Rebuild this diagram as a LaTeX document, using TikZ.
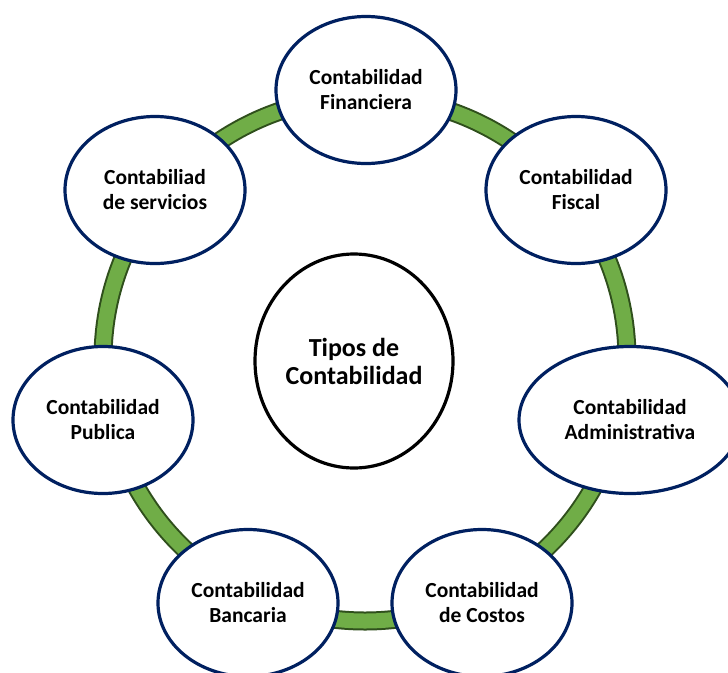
\documentclass[tikz,border=0pt]{standalone}
\usepackage{fontspec}
\setmainfont{Carlito}
\usetikzlibrary{shapes.geometric}
\definecolor{navy}{HTML}{002060}
\definecolor{ringgreen}{HTML}{70AD47}
\definecolor{ringdark}{HTML}{2F4F1C}
\begin{document}
\begin{tikzpicture}[x=1pt,y=-1pt,
  item/.style={ellipse, draw=navy, line width=3.2pt, fill=white,
    minimum width=180pt, minimum height=147pt, inner sep=0pt, align=center,
    font=\fontsize{21.5}{25}\selectfont\bfseries},
  hub/.style={ellipse, draw=black, line width=3.2pt, fill=white,
    minimum width=198pt, minimum height=214pt, inner sep=0pt, align=center,
    font=\fontsize{26}{28}\selectfont\bfseries}]
\useasboundingbox (0,0) rectangle (728,672);
\clip (0,0) rectangle (728,672);
\fill[white] (0,0) rectangle (728,672);
% ring
\draw[ringdark, line width=19pt] (365,359) circle[radius=262pt];
\draw[ringgreen, line width=15pt] (365,359) circle[radius=262pt];
% center
\node[hub] (center) at (354,361) {Tipos de\\Contabilidad};
% items
\node[item] (fin) at (366,90) {Contabilidad\\Financiera};
\node[item] (fis) at (576,190) {Contabilidad\\Fiscal};
\node[item, minimum width=222pt] (adm) at (630,420) {Contabilidad\\Administrativa};
\node[item] (cos) at (482,603) {Contabilidad\\de Costos};
\node[item] (ban) at (248,603) {Contabilidad\\Bancaria};
\node[item] (pub) at (103,420) {Contabilidad\\Publica};
\node[item] (ser) at (155,190) {Contabiliad\\de servicios};
\end{tikzpicture}
\end{document}
